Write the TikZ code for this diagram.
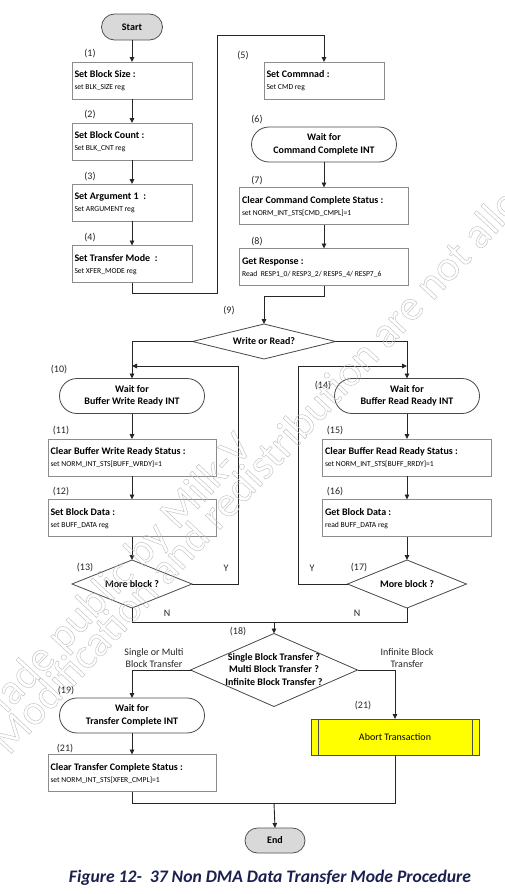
\documentclass[tikz,border=0pt]{standalone}
\usepackage{fontspec}
\setmainfont{Carlito}
\usetikzlibrary{arrows.meta,shapes.geometric,shapes.misc}
\definecolor{linec}{HTML}{262626}
\definecolor{boxc}{HTML}{8C8C8C}
\definecolor{termfill}{HTML}{D9D9D9}
\definecolor{capc}{HTML}{1B2050}
\definecolor{abortfill}{HTML}{FFFF00}

% process box: name, centre, width, title, register line
\newcommand\procbox[5]{%
  \node[pbox, minimum width=#3] (#1) at #2 {};
  \node[ttl] (#1t) at ([xshift=2.5pt,yshift=-15.5pt]#1.north west) {#4};
  \node[subt] (#1s) at ([xshift=2.5pt,yshift=-27.5pt]#1.north west) {#5};
}
% hollow (stroked only) lettering
\newcommand\hollowtext[1]{%
  \special{pdf:literal direct 1 Tr 0.4 w 0.74 G}#1\special{pdf:literal direct 0 Tr 0 G}}

\begin{document}
\begin{tikzpicture}[x=1pt,y=-1pt,
  every node/.style={inner sep=0pt, outer sep=0pt},
  flow/.style={draw=linec, line width=0.9pt},
  arr/.style={flow, -{Triangle[length=5pt,width=4.5pt]}},
  pbox/.style={draw=boxc, line width=0.8pt, fill=white, minimum height=37pt},
  term/.style={rounded rectangle, draw=linec!80, line width=0.8pt, fill=termfill,
    minimum width=61pt, minimum height=26pt, font=\fontsize{10}{12}\selectfont\bfseries},
  waitbox/.style={rounded rectangle, draw=linec!85, line width=0.8pt, fill=white,
    minimum width=145pt, minimum height=35pt, align=center,
    font=\fontsize{10}{12.5}\selectfont\bfseries},
  decide/.style={diamond, draw=linec!85, line width=0.8pt, fill=white},
  dtext/.style={align=center, font=\fontsize{10}{12.4}\selectfont\bfseries},
  ttl/.style={anchor=base west, font=\fontsize{10}{12}\selectfont\bfseries},
  subt/.style={anchor=base west, font=\fontsize{7.6}{9}\selectfont},
  tag/.style={font=\fontsize{10}{12}\selectfont, text=black!85},
  wmtext/.style={anchor=base west, rotate=47, font=\fontsize{43}{43}\selectfont,
    text=black!30},
]
\useasboundingbox (0,0) rectangle (504,894);
\fill[white] (0,0) rectangle (504,894);

% ---- setup column ----
\node[term] (start) at (132,27) {Start};
\procbox{b1}{(132,80.5)}{120pt}{Set Block Size :}{set BLK\_SIZE reg}
\procbox{b2}{(132,141.5)}{120pt}{Set Block Count :}{Set BLK\_CNT reg}
\procbox{b3}{(132,202.5)}{120pt}{Set Argument 1\ \ :}{Set ARGUMENT reg}
\procbox{b4}{(132,264)}{120pt}{Set Transfer Mode\ \ :}{Set XFER\_MODE reg}

% ---- command column ----
\procbox{b5}{(324,80.5)}{120pt}{Set Commnad :}{Set CMD reg}
\node[waitbox] (s6) at (324,144.5) {Wait for\\Command Complete INT};
\procbox{b7}{(324,206)}{169pt}{Clear Command Complete Status :}{set NORM\_INT\_STS[CMD\_CMPL]=1}
\procbox{b8}{(324,267)}{169pt}{Get Response :}{Read\ \ RESP1\_0/ RESP3\_2/ RESP5\_4/ RESP7\_6}

\node[decide, minimum width=143pt, minimum height=35pt] (d9) at (264,341.5) {};
\node[dtext] (d9t) at (d9) {Write or Read?};

% ---- write branch ----
\node[waitbox] (s10) at (132,396) {Wait for\\Buffer Write Ready INT};
\procbox{b11}{(132,457.5)}{168pt}{Clear Buffer Write Ready Status :}{set NORM\_INT\_STS[BUFF\_WRDY]=1}
\procbox{b12}{(132,518)}{168pt}{Set Block Data :}{set BUFF\_DATA reg}
\node[decide, minimum width=120pt, minimum height=48pt] (d13) at (132,584) {};
\node[dtext] (d13t) at (d13) {More block ?};

% ---- read branch ----
\node[waitbox] (s14) at (407,396) {Wait for\\Buffer Read Ready INT};
\procbox{b15}{(407,457.5)}{169pt}{Clear Buffer Read Ready Status :}{set NORM\_INT\_STS[BUFF\_RRDY]=1}
\procbox{b16}{(407,518)}{169pt}{Get Block Data :}{read BUFF\_DATA reg}
\node[decide, minimum width=119pt, minimum height=48pt] (d17) at (407,584) {};
\node[dtext] (d17t) at (d17) {More block ?};

% ---- transfer type ----
\node[decide, minimum width=167pt, minimum height=73pt] (d18) at (274,670) {};
\node[dtext] (d18t) at (274,669.5) {Single Block Transfer ?\\Multi Block Transfer ?\\Infinite Block Transfer ?};

\node[waitbox] (s19) at (132,715.5) {Wait for\\Transfer Complete INT};
\procbox{b21}{(132,773)}{168pt}{Clear Transfer Complete Status :}{set NORM\_INT\_STS[XFER\_CMPL]=1}

\node[rectangle, draw=black!70, line width=0.8pt, fill=abortfill, minimum width=168pt,
  minimum height=36pt, font=\fontsize{10}{12}\selectfont] (abort) at (395,737) {Abort Transaction};
\draw[draw=black!70, line width=0.8pt] ([xshift=7pt]abort.north west) -- ([xshift=7pt]abort.south west);
\draw[draw=black!70, line width=0.8pt] ([xshift=-7pt]abort.north east) -- ([xshift=-7pt]abort.south east);

\node[term, minimum width=60pt, minimum height=25pt] (end) at (275,840.5) {End};

% ---- step numbers ----
\node[tag] (n1) at (90,54) {(1)};
\node[tag] (n2) at (90,115) {(2)};
\node[tag] (n3) at (90,177) {(3)};
\node[tag] (n4) at (90,238) {(4)};
\node[tag] (n5) at (243,56) {(5)};
\node[tag] (n6) at (257,120) {(6)};
\node[tag] (n7) at (257,181) {(7)};
\node[tag] (n8) at (257,242) {(8)};
\node[tag] (n9) at (229,311) {(9)};
\node[tag] (n10) at (59,370) {(10)};
\node[tag] (n11) at (61,431) {(11)};
\node[tag] (n12) at (61,492) {(12)};
\node[tag] (n13) at (85,568) {(13)};
\node[tag] (n14) at (323,386) {(14)};
\node[tag] (n15) at (335,431) {(15)};
\node[tag] (n16) at (335,492) {(16)};
\node[tag] (n17) at (359,568) {(17)};
\node[tag] (n18) at (238,632) {(18)};
\node[tag] (n19) at (66,691) {(19)};
\node[tag] (n21a) at (65,749) {(21)};
\node[tag] (n21b) at (363,706) {(21)};

\node[tag] (yl) at (226,568) {Y};
\node[tag] (yr) at (312,568) {Y};
\node[tag] (nl) at (167,613) {N};
\node[tag] (nr) at (357,613) {N};
\node[tag, align=center, font=\fontsize{10}{11.6}\selectfont] (lsm) at (154,658) {Single or Multi\\Block Transfer};
\node[tag, align=center, font=\fontsize{10}{11.6}\selectfont] (linf) at (407,658) {Infinite Block\\Transfer};

% ---- connectors ----
\coordinate (c1) at (217,293);
\coordinate (c2) at (217,35);
\coordinate (c3) at (264,296);
\coordinate (c4) at (238,366);
\coordinate (c5) at (274,622);
\coordinate (c6) at (298,366);
\coordinate (c7) at (274,803);

\draw[arr] (start.south) -- (b1.north);
\draw[arr] (b1.south) -- (b2.north);
\draw[arr] (b2.south) -- (b3.north);
\draw[arr] (b3.south) -- (b4.north);
\draw[arr] (b4.south) |- (c1) -- (c2) -| (b5.north);
\draw[arr] (s6.south) -- (b7.north);
\draw[arr] (b7.south) -- (b8.north);
\draw[arr] (b8.south) |- (c3) -- (d9.north);
\draw[arr] (d9.west) -| (s10.north);
\draw[arr] (d9.east) -| (s14.north);
\draw[arr] (s10.south) -- (b11.north);
\draw[arr] (b11.south) -- (b12.north);
\draw[arr] (b12.south) -- (d13.north);
\draw[arr] (d13.east) -| (c4) -- (c4 -| s10.north);
\draw[arr] (s14.south) -- (b15.north);
\draw[arr] (b15.south) -- (b16.north);
\draw[arr] (b16.south) -- (d17.north);
\draw[arr] (d17.west) -| (c6) -- (c6 -| s14.north);
\draw[flow] (d13.south) |- (c5);
\draw[flow] (d17.south) |- (c5);
\draw[arr] (c5) -- (d18.north);
\draw[arr] (d18.west) -| (s19.north);
\draw[arr] (d18.east) -| (abort.north);
\draw[arr] (s19.south) -- (b21.north);
\draw[flow] (b21.south) |- (c7);
\draw[flow] (abort.south) |- (c7);
\draw[arr] (c7) -- (end.north);

% ---- caption ----
\node[anchor=base, font=\fontsize{17.6}{20}\selectfont\bfseries\itshape, text=capc] (cap)
  at (270,882) {Figure 12-\ \ 37 Non DMA Data Transfer Mode Procedure};

% ---- watermark ----
\node[wmtext] (wm1) at (-12,734) {\hollowtext{Made public by Milk-V}};
\node[wmtext] (wm2) at (9,756) {\hollowtext{Modification and redistribution are not allowed}};
\end{tikzpicture}
\end{document}
